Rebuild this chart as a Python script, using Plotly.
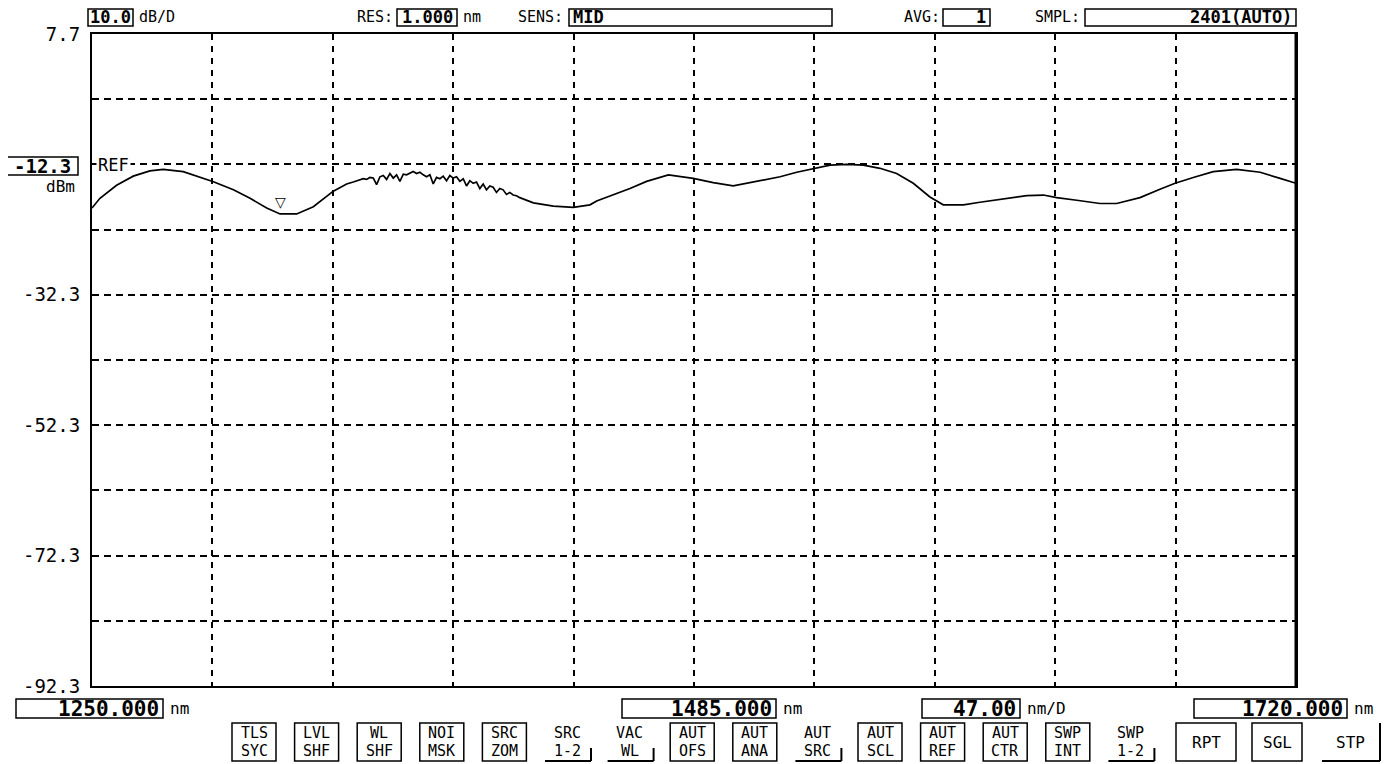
import plotly.graph_objects as go

# ---------------- data ----------------
wavelength_nm = [
    1250.0, 1253.1, 1259.6, 1266.1, 1272.6, 1277.8, 1285.6, 1292.2, 1297.4, 1305.2,
    1311.7, 1318.2, 1323.4, 1329.9, 1336.4, 1344.2, 1349.4,
    1352.0, 1353.3, 1354.6, 1355.9, 1357.2, 1358.5, 1359.8, 1361.1, 1362.4, 1363.7,
    1365.0, 1366.3, 1367.6, 1368.9, 1370.2, 1371.5, 1372.8, 1374.1, 1375.4, 1376.7,
    1378.0, 1379.3, 1380.6, 1381.9, 1383.2, 1384.5, 1385.8, 1387.1, 1388.4, 1389.7,
    1391.0, 1392.3, 1393.6, 1394.9, 1396.2, 1397.5, 1398.8, 1400.1, 1401.4, 1402.7,
    1404.0, 1405.3, 1406.6, 1407.9, 1409.2, 1410.5, 1411.8, 1413.1, 1414.4, 1415.7,
    1417.0,
    1422.3, 1430.1, 1437.9, 1444.4, 1447.0, 1453.5, 1460.0, 1466.5, 1475.0, 1484.7,
    1492.5, 1500.3, 1509.4, 1518.6, 1525.1, 1532.2, 1538.1, 1544.6, 1551.1, 1557.6,
    1564.1, 1570.6, 1577.1, 1582.3, 1590.2, 1596.6, 1601.9, 1608.4, 1614.9, 1621.4,
    1626.6, 1634.4, 1643.5, 1650.0, 1659.1, 1666.9, 1672.8, 1679.9, 1687.7, 1696.8,
    1706.0, 1713.8, 1720.0,
]
power_dbm = [
    -19.0, -17.5, -15.5, -14.1, -13.3, -13.05, -13.4, -14.2, -14.95, -16.2,
    -17.5, -19.0, -19.9, -19.9, -18.8, -16.4, -15.3,
    -15.0, -14.8, -14.7, -14.5, -14.6, -14.3, -14.4, -15.4, -14.2, -14.0,
    -14.6, -13.7, -14.4, -13.9, -14.9, -13.8, -13.9, -13.6, -13.4, -13.7,
    -13.5, -13.9, -14.2, -13.9, -15.3, -14.3, -14.5, -14.1, -14.8, -14.0,
    -14.4, -14.2, -14.9, -14.5, -15.6, -14.8, -15.2, -15.0, -16.0, -15.3,
    -16.2, -15.6, -15.8, -16.6, -16.0, -16.2, -16.9, -16.6, -17.0, -17.1,
    -17.4,
    -18.2, -18.7, -18.9, -18.5, -17.9, -17.0, -16.0, -14.9, -13.9, -14.45,
    -15.1, -15.6, -14.95, -14.2, -13.5, -12.9, -12.4, -12.3, -12.4, -12.9,
    -13.7, -15.2, -17.3, -18.5, -18.5, -18.1, -17.8, -17.4, -17.1, -17.0,
    -17.4, -17.8, -18.3, -18.3, -17.4, -16.1, -15.2, -14.3, -13.4, -13.05,
    -13.5, -14.45, -15.2,
]

x_grid_nm = [1250, 1297, 1344, 1391, 1438, 1485, 1532, 1579, 1626, 1673, 1720]
y_grid_dbm = [7.7, -2.3, -12.3, -22.3, -32.3, -42.3, -52.3, -62.3, -72.3, -82.3, -92.3]
y_tick_text = ["7.7", "", "", "", "-32.3", "", "-52.3", "", "-72.3", "", "-92.3"]

ref_level_text = "-12.3"
ref_unit_text = "dBm"
scale_text = "10.0"
res_text = "1.000"
sens_text = "MID"
avg_text = "1"
smpl_text = "2401(AUTO)"
start_text = "1250.000"
center_text = "1485.000"
span_text = "47.00"
stop_text = "1720.000"

soft_keys = [
    ("TLS", "SYC", "box"), ("LVL", "SHF", "box"), ("WL", "SHF", "box"),
    ("NOI", "MSK", "box"), ("SRC", "ZOM", "box"), ("SRC", "1-2", "under"),
    ("VAC", "WL", "under"), ("AUT", "OFS", "box"), ("AUT", "ANA", "box"),
    ("AUT", "SRC", "under"), ("AUT", "SCL", "box"), ("AUT", "REF", "box"),
    ("AUT", "CTR", "box"), ("SWP", "INT", "box"), ("SWP", "1-2", "under"),
]
run_keys = [("RPT", "box"), ("SGL", "box"), ("STP", "under")]

# ---------------- layout helpers (window pixel -> paper) ----------------
WIN_W, WIN_H = 1395, 764
PAGE_OFF = 8                      # default body margin of the html page
W, H = WIN_W - PAGE_OFF, WIN_H - PAGE_OFF
L, R, T, B = 92, 1296, 34, 686    # plot area in window pixels
MONO = "DejaVu Sans Mono"


def px(x):
    return (x - L) / (R - L)


def py(y):
    return (B - y) / (B - T)


shapes = []
annotations = []


def rect(x0, y0, x1, y1, width=1.5):
    shapes.append(dict(type="rect", xref="paper", yref="paper",
                       x0=px(x0), x1=px(x1), y0=py(y1), y1=py(y0),
                       line=dict(color="black", width=width), fillcolor="rgba(0,0,0,0)"))


def line(x0, y0, x1, y1, width=1.5):
    shapes.append(dict(type="line", xref="paper", yref="paper",
                       x0=px(x0), x1=px(x1), y0=py(y0), y1=py(y1),
                       line=dict(color="black", width=width)))


def text(s, x, y, size=15, anchor="left", bold=False, bg=None):
    a = dict(text=("<b>%s</b>" % s) if bold else s, xref="paper", yref="paper",
             x=px(x), y=py(y), xanchor=anchor, yanchor="middle", showarrow=False,
             font=dict(family=MONO, size=size, color="black"))
    if bg:
        a["bgcolor"] = bg
    annotations.append(a)


def boxed(s, x0, x1, y0, y1, align="right", size=21):
    rect(x0, y0, x1, y1)
    if align == "right":
        text(s, x1 - 2, (y0 + y1) / 2, size=size, anchor="right", bold=True)
    elif align == "left":
        text(s, x0 + 2, (y0 + y1) / 2, size=size, anchor="left", bold=True)
    else:
        text(s, (x0 + x1) / 2, (y0 + y1) / 2, size=size, anchor="center", bold=True)


# ---------------- figure ----------------
fig = go.Figure()
fig.add_trace(go.Scatter(x=wavelength_nm, y=power_dbm, mode="lines",
                         line=dict(color="black", width=1.7), hoverinfo="skip",
                         showlegend=False))

# marker (triangle) at trace minimum
imin = min(range(len(power_dbm)), key=lambda i: power_dbm[i])
annotations.append(dict(x=wavelength_nm[imin], y=power_dbm[imin], xref="x", yref="y",
                        text="▽", showarrow=False, yshift=12,
                        font=dict(family="DejaVu Sans", size=14, color="black")))

# header (kept below the 8px page margin)
HY0, HY1 = 9, 26
HC = (HY0 + HY1) / 2
boxed(scale_text, 88, 133, HY0, HY1, align="center", size=17)
text("dB/D", 137, HC, size=15)
text("RES:", 355, HC, size=15)
boxed(res_text, 397, 457, HY0, HY1, align="center", size=17)
text("nm", 461, HC, size=15)
text("SENS:", 516, HC, size=15)
boxed(sens_text, 569, 832, HY0, HY1, align="left", size=17)
text("AVG:", 902, HC, size=15)
boxed(avg_text, 943, 990, HY0, HY1, align="right", size=17)
text("SMPL:", 1033, HC, size=15)
boxed(smpl_text, 1085, 1296, HY0, HY1, align="right", size=17)

# reference level
boxed(ref_level_text, 6, 78, 157, 175, align="center", size=19)
text(ref_unit_text, 77, 186, size=16, anchor="right")
text("REF", 96, 165, size=17, bg="white")

# bottom value row
boxed(start_text, 16, 163, 699, 718, align="right", size=21)
text("nm", 168, 709, size=16)
boxed(center_text, 622, 776, 699, 718, align="right", size=21)
text("nm", 781, 709, size=16)
boxed(span_text, 922, 1020, 699, 718, align="right", size=21)
text("nm/D", 1025, 709, size=16)
boxed(stop_text, 1194, 1347, 699, 718, align="right", size=21)
text("nm", 1352, 709, size=16)

# soft keys
BY0, BY1 = 723, 761
kx = 232
for top, bot, style in soft_keys:
    x0, x1 = kx, kx + 44
    if style == "box":
        rect(x0, BY0, x1, BY1, width=1.5)
    else:
        line(x0, BY1, x1 + 2, BY1, width=2)
        line(x1 + 2, BY1 - 13, x1 + 2, BY1, width=2)
    text(top, (x0 + x1) / 2, BY0 + 9.5, size=15, anchor="center")
    text(bot, (x0 + x1) / 2, BY0 + 27.5, size=15, anchor="center")
    kx += 62.6

run_pos = [(1176, 1236), (1252, 1302), (1322, 1378)]
for (lab, style), (x0, x1) in zip(run_keys, run_pos):
    if style == "box":
        rect(x0, BY0, x1, BY1, width=1.5)
    else:
        line(x0, BY1, x1 + 2, BY1, width=2)
        line(x1 + 2, BY0, x1 + 2, BY1, width=2)
    text(lab, (x0 + x1) / 2, (BY0 + BY1) / 2, size=16, anchor="center")

# thick right border
line(R, T, R, B, width=3)

fig.update_layout(
    width=W, height=H,
    margin=dict(l=L - PAGE_OFF, r=WIN_W - R, t=T - PAGE_OFF, b=WIN_H - B, pad=0),
    paper_bgcolor="white", plot_bgcolor="white",
    shapes=shapes, annotations=annotations,
    showlegend=False,
    xaxis=dict(range=[x_grid_nm[0], x_grid_nm[-1]], tickvals=x_grid_nm,
               showticklabels=False, ticks="", showgrid=True, gridcolor="black",
               gridwidth=1.5, griddash="6px,6px", zeroline=False,
               showline=True, linecolor="black", linewidth=2, mirror=True),
    yaxis=dict(range=[y_grid_dbm[-1], y_grid_dbm[0]], tickvals=y_grid_dbm,
               ticktext=y_tick_text, ticks="", ticklabelstandoff=6,
               tickfont=dict(family=MONO, size=19, color="black"),
               showgrid=True, gridcolor="black", gridwidth=1.5,
               griddash="7px,5px", zeroline=False,
               showline=True, linecolor="black", linewidth=2, mirror=True),
)

fig.write_html("out.html")
